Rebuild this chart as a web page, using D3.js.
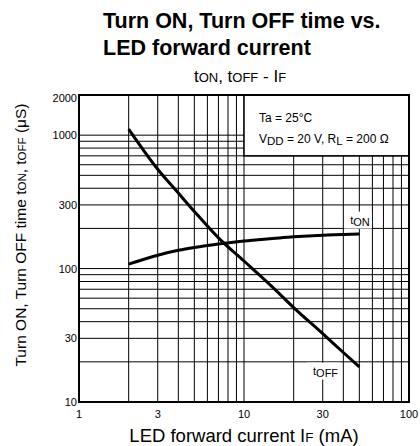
<!DOCTYPE html>
<html>
<head>
  <meta charset="utf-8">
  <title>Turn ON, Turn OFF time vs. LED forward current</title>
  <style>
    body { margin: 0; background: #fff; }
    text { font-family: 'Liberation Sans', Arial, sans-serif; fill: #000; }
  </style>
</head>
<body>
  <div id="chart"></div>
  <script src="https://d3js.org/d3.v7.min.js"></script>
  <script>
    // LED forward current IF (mA)
    let currentIF = [2, 3, 4, 5, 7, 10, 15, 20, 30, 40, 50];
    // turn OFF / turn ON time (uS)
    let tOff = [1110, 555, 368, 268, 170, 114, 72, 51, 32.5, 23.5, 18.3];
    let tOn = [108, 126, 137, 144, 153, 161, 168, 173, 178, 180, 182];

    let xTicks = [1, 3, 10, 30, 100];
    let yTicks = [10, 30, 100, 300, 1000, 2000];
    let xGrid = [2, 3, 4, 5, 6, 7, 8, 9, 10, 20, 30, 40, 50, 60, 70, 80, 90];
    let yGrid = [20, 30, 40, 50, 60, 70, 80, 90, 100, 200, 300, 400, 500, 600, 700, 800, 900, 1000];

    // conditions box spans these data ranges
    let boxIF = [10, 100];
    let boxT = [700, 2000];

    let svgWidth = 420;
    let svgHeight = 446;
    let margin = { top: 95, right: 11, bottom: 44, left: 79 };

    let svg = d3.select('#chart').append('svg')
      .attr('width', svgWidth)
      .attr('height', svgHeight);

    let x = d3.scaleLog().domain([1, 100]).range([margin.left, svgWidth - margin.right]);
    let y = d3.scaleLog().domain([10, 2000]).range([svgHeight - margin.bottom, margin.top]);

    // text made of pieces: [text, size, dy]
    function addParts(sel, parts) {
      let shift = 0;
      parts.forEach(p => {
        let ts = sel.append('tspan').text(p[0]).style('font-size', p[1] + 'px');
        let want = p[2] || 0;
        if (want !== shift) {
          ts.attr('dy', want - shift);
          shift = want;
        }
      });
      return sel;
    }

    // titles
    svg.append('text').attr('x', 103).attr('y', 27.5)
      .style('font-size', '21.5px').style('font-weight', 'bold')
      .text('Turn ON, Turn OFF time vs.');
    svg.append('text').attr('x', 103).attr('y', 55)
      .style('font-size', '21.5px').style('font-weight', 'bold')
      .text('LED forward current');
    addParts(svg.append('text').attr('x', 240).attr('y', 81.5).attr('text-anchor', 'middle'),
      [['t', 17], ['ON', 13], [', t', 17], ['OFF', 13], [' - I', 17], ['F', 13]]);

    // grid
    let grid = svg.append('g').attr('stroke', '#000').attr('stroke-width', 1);
    grid.selectAll('.vg').data(xGrid).enter().append('line')
      .attr('class', 'vg')
      .attr('x1', d => x(d)).attr('x2', d => x(d))
      .attr('y1', y(10)).attr('y2', y(2000));
    grid.selectAll('.hg').data(yGrid).enter().append('line')
      .attr('class', 'hg')
      .attr('x1', x(1)).attr('x2', x(100))
      .attr('y1', d => y(d)).attr('y2', d => y(d));

    // conditions box
    svg.append('rect')
      .attr('x', x(boxIF[0])).attr('y', y(boxT[1]))
      .attr('width', x(boxIF[1]) - x(boxIF[0]))
      .attr('height', y(boxT[0]) - y(boxT[1]))
      .attr('fill', '#fff').attr('stroke', '#000').attr('stroke-width', 1.5);
    svg.append('text').attr('x', x(boxIF[0]) + 15).attr('y', 122)
      .style('font-size', '12px').text('Ta = 25°C');
    addParts(svg.append('text').attr('x', x(boxIF[0]) + 15).attr('y', 142.5),
      [['V', 12], ['DD', 11.5, 2], [' = 20 V, R', 12], ['L', 11.5, 2], [' = 200 Ω', 12]]);

    // curve labels on white patches
    function curveLabel(ix, tv, name) {
      let g = svg.append('g');
      let bg = g.append('rect').attr('fill', '#fff');
      let t = addParts(g.append('text').attr('x', x(ix)).attr('y', y(tv)),
        [['t', 11, -2], [name, 11]]);
      let b = t.node().getBBox();
      bg.attr('x', b.x - 6).attr('y', b.y - 2)
        .attr('width', b.width + 8).attr('height', b.height + 3);
    }
    curveLabel(44, 210, 'ON');
    curveLabel(26.2, 15.5, 'OFF');

    // curves
    let line = d3.line()
      .x((d, i) => x(currentIF[i]))
      .y(d => y(d))
      .curve(d3.curveMonotoneX);
    [tOff, tOn].forEach(s => {
      svg.append('path').datum(s)
        .attr('d', line)
        .attr('fill', 'none')
        .attr('stroke', '#000')
        .attr('stroke-width', 3);
    });

    // frame
    svg.append('rect')
      .attr('x', x(1)).attr('y', y(2000))
      .attr('width', x(100) - x(1)).attr('height', y(10) - y(2000))
      .attr('fill', 'none').attr('stroke', '#000').attr('stroke-width', 2);

    // tick labels
    svg.selectAll('.ytl').data(yTicks).enter().append('text')
      .attr('class', 'ytl')
      .attr('x', x(1) - 2)
      .attr('y', d => d === 2000 ? y(d) + 7 : y(d) + 4)
      .attr('text-anchor', 'end')
      .style('font-size', '11px')
      .text(d => d);
    svg.selectAll('.xtl').data(xTicks).enter().append('text')
      .attr('class', 'xtl')
      .attr('x', d => x(d))
      .attr('y', 418)
      .attr('text-anchor', 'middle')
      .style('font-size', '11px')
      .text(d => d);

    // axis titles
    addParts(svg.append('text').attr('x', 244).attr('y', 442).attr('text-anchor', 'middle'),
      [['LED forward current I', 18.5], ['F', 13.5], [' (mA)', 18.5]]);
    addParts(svg.append('text')
      .attr('transform', 'translate(25.5,235) rotate(-90)')
      .attr('text-anchor', 'middle'),
      [['Turn ON, Turn OFF time t', 15.5], ['ON', 11.5], [', t', 15.5], ['OFF', 11.5], [' (μS)', 15.5]]);
  </script>
</body>
</html>
